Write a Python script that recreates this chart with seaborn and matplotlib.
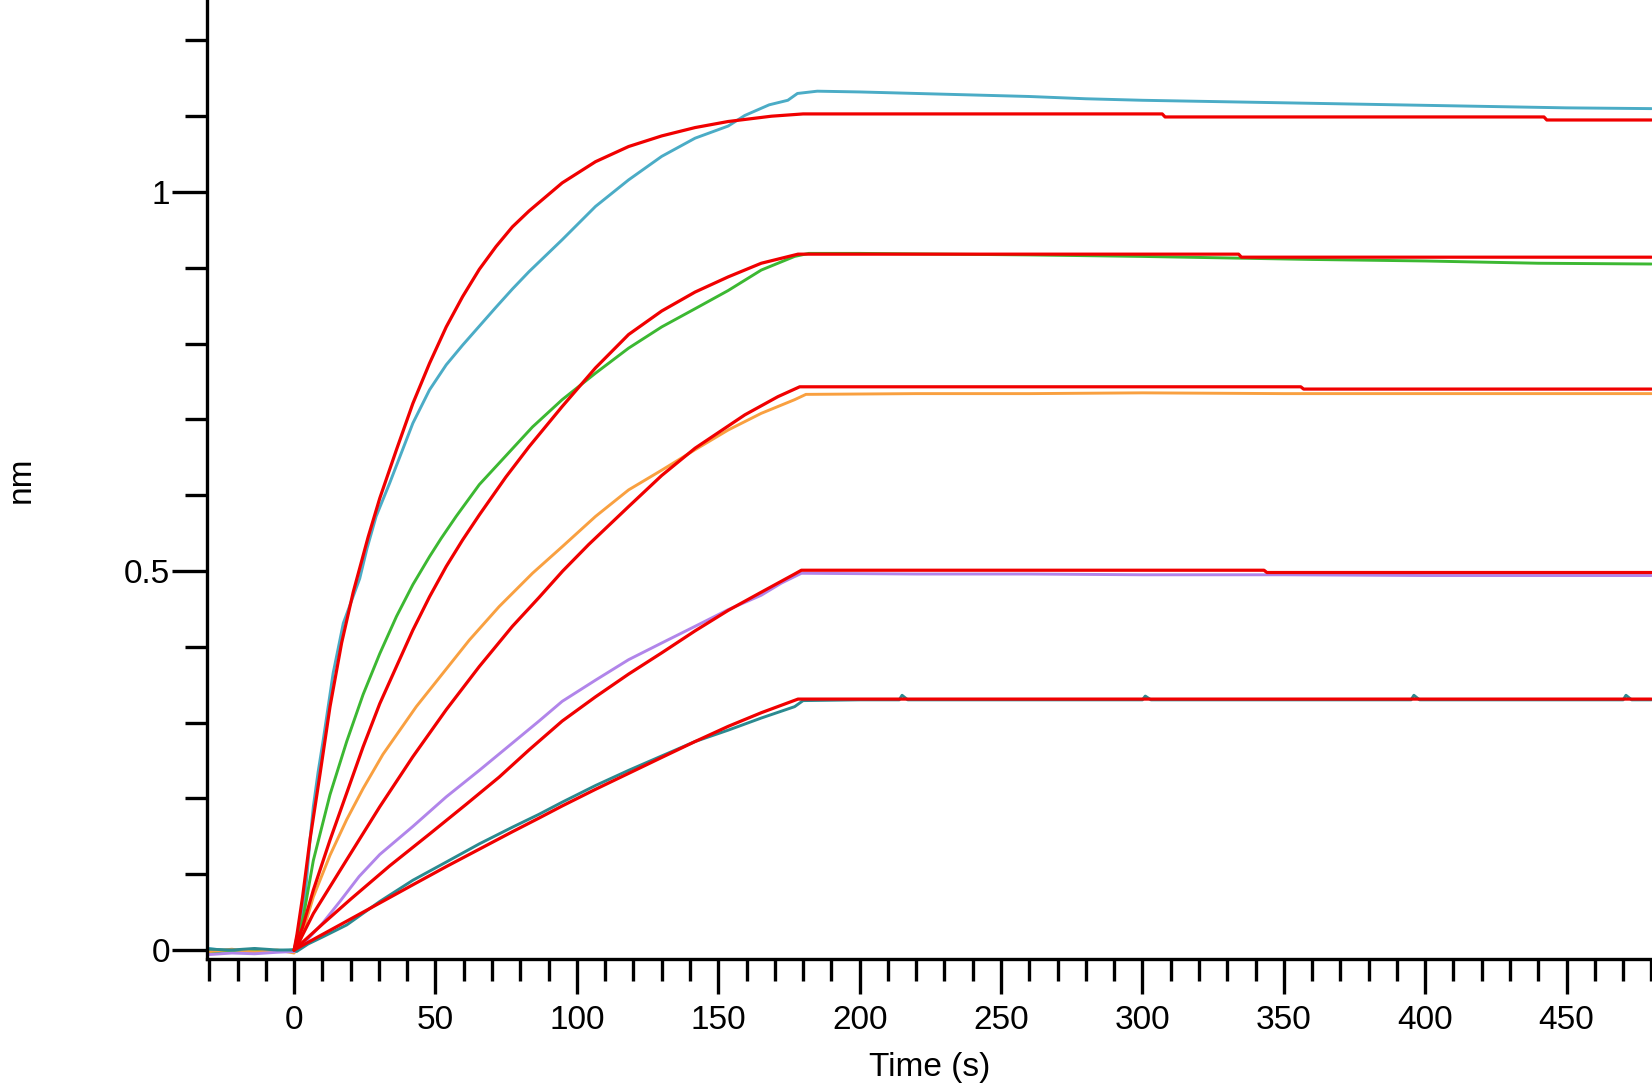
import pandas as pd
import matplotlib
matplotlib.use('Agg')
import matplotlib.pyplot as plt
from matplotlib.ticker import MultipleLocator, FixedLocator
import seaborn as sns

# sensor traces, (time s, response nm)
cyan_trace = [(-30, 0.002), (-22, -0.002), (-14, 0.001), (-6, -0.001), (0, 0.0), (2, 0.035),
              (3.9, 0.07), (5.5, 0.14), (6.8, 0.189), (8.5, 0.235), (10.3, 0.277), (13.8, 0.365),
              (17.4, 0.431), (23.2, 0.49), (25.8, 0.53), (29, 0.572), (33.8, 0.616), (42, 0.695),
              (47.9, 0.739), (53.8, 0.772), (59.6, 0.798), (65.5, 0.823), (71.4, 0.848), (77.2, 0.872),
              (83.1, 0.895), (94.8, 0.937), (106.6, 0.981), (118.3, 1.016), (130, 1.047), (141.8, 1.071),
              (153.5, 1.087), (159.4, 1.101), (168, 1.115), (174.6, 1.121), (178, 1.130), (185, 1.133),
              (200, 1.132), (220, 1.130), (240, 1.128), (260, 1.126), (280, 1.123), (300, 1.121),
              (330, 1.119), (360, 1.117), (390, 1.115), (420, 1.113), (450, 1.111), (480, 1.110)]
green_trace = [(-30, -0.003), (-22, -0.001), (-14, 0.001), (-6, -0.002), (0, 0.0), (3.3, 0.044),
               (6.8, 0.118), (12.7, 0.205), (18.6, 0.275), (24.4, 0.337), (30.3, 0.391), (36.2, 0.44),
               (42, 0.482), (47.9, 0.519), (52, 0.543), (57.3, 0.572), (65.5, 0.614), (74.9, 0.652),
               (84.3, 0.69), (94.8, 0.726), (106.6, 0.761), (118.3, 0.794), (130, 0.822), (141.8, 0.846),
               (153.5, 0.87), (165.2, 0.897), (177, 0.915), (182, 0.919), (200, 0.919), (230, 0.918),
               (260, 0.917), (300, 0.915), (330, 0.913), (360, 0.911), (400, 0.909), (440, 0.906),
               (480, 0.905)]
orange_trace = [(-30, -0.002), (-22, 0.001), (-14, -0.003), (-6, 0.0), (0, -0.004), (2, 0.01),
                (6.8, 0.07), (12.7, 0.125), (18.6, 0.172), (24.4, 0.213), (31.4, 0.258), (43.2, 0.321),
                (52.6, 0.365), (62, 0.409), (72.5, 0.453), (84.3, 0.497), (94.8, 0.532), (106.6, 0.572),
                (118.3, 0.607), (130, 0.633), (141.8, 0.66), (153.5, 0.686), (165.2, 0.708), (177, 0.726),
                (181, 0.733), (220, 0.734), (260, 0.734), (300, 0.735), (350, 0.734), (400, 0.734),
                (450, 0.734), (480, 0.734)]
purple_trace = [(-30, -0.006), (-22, -0.004), (-14, -0.005), (-6, -0.003), (0, -0.002), (5, 0.015),
                (10, 0.035), (16.2, 0.064), (23, 0.097), (30.3, 0.126), (42, 0.163), (53.8, 0.202),
                (65.5, 0.237), (77.2, 0.273), (86.6, 0.302), (94.8, 0.328), (106.6, 0.356), (118.3, 0.383),
                (130, 0.405), (141.8, 0.427), (153.5, 0.449), (165.2, 0.468), (172.3, 0.484), (179.4, 0.497),
                (220, 0.496), (260, 0.496), (300, 0.495), (350, 0.495), (400, 0.494), (450, 0.494),
                (480, 0.494)]
teal_trace = [(-30, 0.001), (-22, 0.0), (-14, 0.002), (-6, 0.0), (0, 0.0), (0.9, -0.002), (5, 0.008),
              (10, 0.017), (18.6, 0.033), (30.3, 0.064), (42, 0.092), (53.8, 0.116), (65.5, 0.14),
              (77.2, 0.162), (86.6, 0.179), (94.8, 0.195), (106.6, 0.217), (118.3, 0.237), (130, 0.256),
              (141.8, 0.275), (153.5, 0.29), (165.2, 0.306), (177, 0.321), (180, 0.329), (200, 0.33),
              (214, 0.33), (215, 0.336), (217, 0.33), (300, 0.33), (301, 0.335), (303, 0.33),
              (395, 0.33), (396, 0.336), (398, 0.33), (470, 0.33), (471, 0.336), (473, 0.33), (480, 0.33)]

# 1:1 global fits (red)
cyan_fit = [(0, 0.0), (1, 0.02), (3, 0.07), (5.6, 0.145), (9.2, 0.233), (12.7, 0.321), (16.8, 0.405),
            (20.9, 0.472), (26.2, 0.545), (30.3, 0.596), (36.2, 0.66), (42, 0.721), (47.9, 0.774),
            (53.8, 0.822), (59.6, 0.862), (65.5, 0.898), (71.4, 0.928), (77.2, 0.954), (83.1, 0.975),
            (94.8, 1.012), (106.6, 1.04), (118.3, 1.06), (130, 1.074), (141.8, 1.085), (153.5, 1.093),
            (168.8, 1.1), (180, 1.103), (307, 1.103), (308, 1.099), (442, 1.099), (443, 1.095), (480, 1.095)]
green_fit = [(0, 0.0), (1, 0.01), (3, 0.03), (6.8, 0.079), (12.7, 0.145), (18.6, 0.207), (24.4, 0.268),
             (30.3, 0.325), (36.2, 0.374), (42, 0.422), (47.9, 0.466), (53.8, 0.506), (59.6, 0.541),
             (65.5, 0.574), (74.9, 0.624), (83.1, 0.664), (94.8, 0.717), (106.6, 0.768), (118.3, 0.812),
             (130, 0.843), (141.8, 0.868), (153.5, 0.888), (165.2, 0.906), (178.2, 0.918), (334, 0.918),
             (335, 0.914), (480, 0.914)]
orange_fit = [(0, 0.0), (1, 0.005), (6.8, 0.048), (18.6, 0.119), (30.3, 0.189), (42, 0.255), (53.8, 0.317),
              (65.5, 0.374), (77.2, 0.427), (86.6, 0.465), (95, 0.5), (104.2, 0.535), (118.3, 0.585),
              (130, 0.626), (141.8, 0.662), (159.4, 0.706), (171.1, 0.73), (178.8, 0.743), (356, 0.743),
              (357, 0.74), (480, 0.74)]
purple_fit = [(0, 0.0), (10, 0.034), (20, 0.067), (33.8, 0.111), (47.9, 0.153), (60.8, 0.192),
              (72.5, 0.228), (83.1, 0.264), (94.8, 0.302), (106.6, 0.334), (118.3, 0.364), (130, 0.392),
              (141.8, 0.421), (153.5, 0.448), (165.2, 0.472), (177, 0.496), (179.4, 0.501), (343, 0.501),
              (344, 0.498), (480, 0.498)]
teal_fit = [(0, 0.0), (18.6, 0.038), (30.3, 0.062), (42, 0.086), (53.8, 0.11), (65.5, 0.133), (77.2, 0.156),
            (86.6, 0.174), (94.8, 0.19), (106.6, 0.212), (118.3, 0.233), (130, 0.254), (141.8, 0.275),
            (153.5, 0.295), (165.2, 0.313), (178.2, 0.331), (480, 0.331)]

traces = {'cyan': cyan_trace, 'green': green_trace, 'orange': orange_trace,
          'purple': purple_trace, 'teal': teal_trace}
fits = {'cyan': cyan_fit, 'green': green_fit, 'orange': orange_fit,
        'purple': purple_fit, 'teal': teal_fit}
palette = {'cyan': '#4BACC6', 'green': '#3CB832', 'orange': '#F9A040',
           'purple': '#B185EA', 'teal': '#2B8A90'}


def to_long(d):
    rows = [(name, t, v) for name, pts in d.items() for t, v in pts]
    return pd.DataFrame(rows, columns=['series', 'time', 'nm'])


df_tr = to_long(traces)
df_fit = to_long(fits)

sns.set_style('white')
plt.rcParams['font.family'] = ['Liberation Sans', 'DejaVu Sans']
plt.rcParams['text.color'] = 'black'
plt.rcParams['axes.labelcolor'] = 'black'
plt.rcParams['xtick.color'] = 'black'
plt.rcParams['ytick.color'] = 'black'

fig = plt.figure(figsize=(16.52, 10.87), dpi=100)
ax = fig.add_axes([207 / 1652, 128 / 1087, 1445 / 1652, 959 / 1087])

sns.lineplot(data=df_tr, x='time', y='nm', hue='series', palette=palette,
             estimator=None, sort=False, legend=False, linewidth=2.1, ax=ax)
sns.lineplot(data=df_fit, x='time', y='nm', units='series', color='#F00000',
             estimator=None, sort=False, legend=False, linewidth=2.3, ax=ax)

ax.set_xlim(-30.8, 480.2)
ax.set_ylim(-0.0119, 1.2533)

ax.xaxis.set_major_locator(MultipleLocator(50))
ax.xaxis.set_minor_locator(MultipleLocator(10))
ax.yaxis.set_major_locator(FixedLocator([0, 0.5, 1]))
ax.yaxis.set_minor_locator(MultipleLocator(0.1))
ax.set_yticklabels(['0', '0.5', '1'])

ax.tick_params(which='both', bottom=True, left=True, top=False, right=False)
ax.tick_params(which='major', length=25, width=2.4, direction='out', labelsize=24,
               color='black', labelcolor='black')
ax.tick_params(which='minor', length=16, width=2.4, direction='out', color='black')
ax.tick_params(axis='x', pad=8)
ax.tick_params(axis='y', pad=1.5)

sns.despine(ax=ax)
for s in ['left', 'bottom']:
    ax.spines[s].set_linewidth(2.4)
    ax.spines[s].set_color('black')

ax.set_xlabel('Time (s)', fontsize=24, color='black')
ax.xaxis.set_label_coords(0.5, -0.097)
ax.set_ylabel('nm', fontsize=24, color='black')
ax.yaxis.set_label_coords(-0.118, 0.5)

plt.savefig('out.png', dpi=100)
